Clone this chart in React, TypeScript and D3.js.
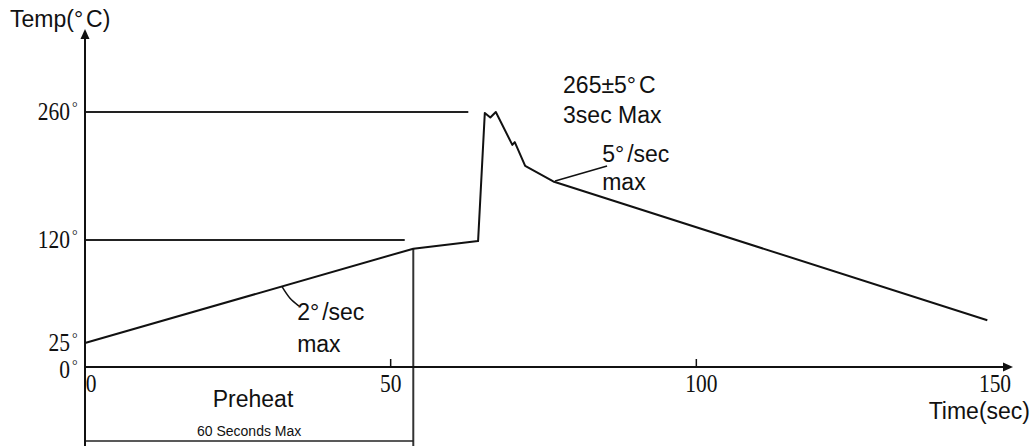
import * as React from 'react';
import * as d3 from 'd3';

// reflow profile (time in sec, temperature in °C)
const profileTime = [0, 53.7, 64.3, 65.4, 66.3, 67.2, 69.9, 70.3, 72.0, 76.6, 147.6];
const profileTemp = [25, 112, 119, 259, 254, 260, 224, 227, 201, 184, 46];

const xTicks = [0, 50, 100, 150];
const yTicks = [0, 25, 120, 260];

// horizontal guide lines and where they stop
const guideTemps = [260, 120];
const guideEnds = [62.7, 52.3];

const preheatEnd = 53.7;

const width = 1031;
const height = 446;

const font = '"Liberation Sans", Arial, sans-serif';
const serif = '"Liberation Serif", "Times New Roman", serif';
const ink = '#111';

const x = d3.scaleLinear().domain([0, 150]).range([85, 1002]);
// the drawing's temperature axis is not evenly spaced, so map each labelled stop
const y = d3.scaleLinear().domain(yTicks).range([367, 343, 240, 112]);

const line = d3.line<[number, number]>()
    .x(d => x(d[0]))
    .y(d => y(d[1]));

const leader2: [number, number][] = [[32.2, 77.2], [33.5, 66.5], [35.0, 59.1]];
const leader5: [number, number][] = [[76.9, 184.5], [85.4, 201]];

// text with a small gap after the degree sign, as in the drawing
const degText = (before: string, after: string) =>
    <>{before}<tspan dx={3}>{after}</tspan></>;

export default function App() {
    const profile = profileTime.map((t, i) => [t, profileTemp[i]] as [number, number]);
    const x0 = x(0);
    const y0 = y(0);
    const axisEnd = 1013;
    const axisTop = 29;

    const label = (content: React.ReactNode, t: number, temp: number) =>
        <text x={x(t)} y={y(temp)} fontFamily={font} fontSize={23} fill={ink}>{content}</text>;

    return (
        <svg width={width} height={height} style={{ position: 'absolute', left: 0, top: 0, background: '#fff' }}>
            {/* guide lines */}
            {guideTemps.map((v, i) =>
                <line key={v} x1={x0} x2={x(guideEnds[i])} y1={y(v)} y2={y(v)} stroke="#222" strokeWidth={2} />
            )}

            {/* preheat boundary and bracket */}
            <line x1={x(preheatEnd)} x2={x(preheatEnd)} y1={y(112)} y2={height} stroke="#333" strokeWidth={2} />
            <line x1={x0} x2={x(preheatEnd)} y1={441} y2={441} stroke="#222" strokeWidth={1.5} />

            {/* axes */}
            <line x1={x0} x2={x0} y1={axisTop + 6} y2={height} stroke={ink} strokeWidth={2} />
            <path d={`M${x0},${axisTop} L${x0 - 4.5},${axisTop + 10} L${x0 + 4.5},${axisTop + 10} Z`} fill={ink} />
            <line x1={x0} x2={axisEnd - 6} y1={y0} y2={y0} stroke={ink} strokeWidth={2} />
            <path d={`M${axisEnd},${y0} L${axisEnd - 10},${y0 - 4.5} L${axisEnd - 10},${y0 + 4.5} Z`} fill={ink} />

            {/* x ticks */}
            {xTicks.filter(t => t > 0 && t < 150).map(t =>
                <line key={t} x1={x(t)} x2={x(t)} y1={y0} y2={y0 - 8} stroke={ink} strokeWidth={1.5} />
            )}
            {xTicks.map((t, i) =>
                <text key={t} transform={`translate(${x(t) + [6, 0, 5, -7][i]},${y0 + 25}) scale(0.86,1)`}
                    fontFamily={serif} fontSize={25} fill={ink} textAnchor="middle">{t}</text>
            )}

            {/* y tick labels */}
            {yTicks.map(v =>
                <g key={v}>
                    <text transform={`translate(70,${y(v) + (v === 0 ? 11 : 8)}) scale(0.86,1)`}
                        fontFamily={serif} fontSize={25} fill={ink} textAnchor="end">{v}</text>
                    <text x={72} y={y(v) + (v === 0 ? 3 : 0)} fontFamily={serif} fontSize={14} fill={ink}>°</text>
                </g>
            )}

            {/* profile */}
            <path d={line(profile) || ''} fill="none" stroke={ink} strokeWidth={2} strokeLinejoin="round" />

            {/* leaders */}
            <path d={d3.line<[number, number]>().x(d => x(d[0])).y(d => y(d[1])).curve(d3.curveNatural)(leader2) || ''}
                fill="none" stroke={ink} strokeWidth={1.5} />
            <path d={line(leader5) || ''} fill="none" stroke={ink} strokeWidth={1.5} />

            {/* annotations */}
            {label(degText('265±5°', 'C'), 78.2, 280.8)}
            {label('3sec Max', 78.2, 248)}
            {label(degText('5°', '/sec'), 84.6, 205.3)}
            {label('max', 84.6, 174.7)}
            {label(degText('2°', '/sec'), 34.7, 46.2)}
            {label('max', 34.7, 15.6)}

            <text x={10} y={27} fontFamily={font} fontSize={23} fill={ink}>{degText('Temp(°', 'C)')}</text>
            <text x={253} y={y0 + 40} fontFamily={font} fontSize={23} fill={ink} textAnchor="middle">Preheat</text>
            <text x={(x0 + x(preheatEnd)) / 2} y={436} fontFamily={font} fontSize={14} fill={ink} textAnchor="middle">60 Seconds Max</text>
            <text x={1030} y={y0 + 52} fontFamily={font} fontSize={23} fill={ink} textAnchor="end">Time(sec)</text>
        </svg>
    );
}
